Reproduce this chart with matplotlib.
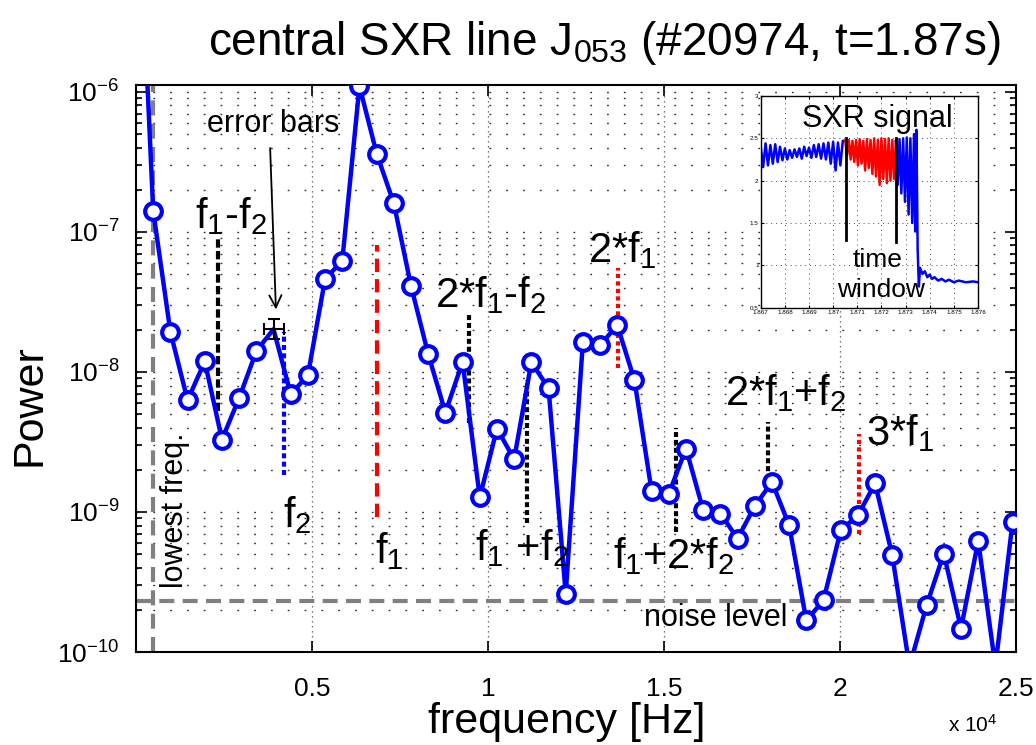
import matplotlib
matplotlib.use('Agg')
import matplotlib.pyplot as plt
from matplotlib.ticker import LogLocator, NullFormatter

plt.rcParams['font.family'] = ['Liberation Sans', 'DejaVu Sans']
plt.rcParams['mathtext.fontset'] = 'custom'
plt.rcParams['mathtext.rm'] = 'Liberation Sans'
plt.rcParams['mathtext.it'] = 'Liberation Sans'
plt.rcParams['mathtext.default'] = 'regular'
plt.rcParams['axes.unicode_minus'] = False
plt.rcParams['xtick.labelsize'] = 19
plt.rcParams['ytick.labelsize'] = 19

# spectrum (frequency in Hz, power)
freq = [0, 488, 977, 1465, 1953, 2441, 2930, 3418, 3906, 4395, 4883, 5371, 5859,
        6348, 6836, 7324, 7813, 8301, 8789, 9277, 9766, 10254, 10742, 11230, 11719,
        12207, 12695, 13184, 13672, 14160, 14648, 15137, 15625, 16113, 16602, 17090,
        17578, 18066, 18555, 19043, 19531, 20020, 20508, 20996, 21484, 21973, 22461,
        22949, 23438, 23926, 24414, 24902]
power = [7e-5, 1.41e-7, 1.93e-8, 6.28e-9, 1.19e-8, 3.29e-9, 6.52e-9, 1.41e-8, 2.02e-8,
         6.93e-9, 9.48e-9, 4.61e-8, 6.21e-8, 1.10e-6, 3.63e-7, 1.60e-7, 4.11e-8, 1.34e-8,
         5.13e-9, 1.18e-8, 1.27e-9, 3.94e-9, 2.38e-9, 1.17e-8, 7.69e-9, 2.61e-10, 1.64e-8,
         1.55e-8, 2.16e-8, 8.73e-9, 1.41e-9, 1.35e-9, 2.84e-9, 1.03e-9, 9.75e-10, 6.46e-10,
         1.10e-9, 1.64e-9, 8.04e-10, 1.68e-10, 2.34e-10, 7.40e-10, 9.46e-10, 1.60e-9,
         4.91e-10, 7.9e-11, 2.16e-10, 5.05e-10, 1.47e-10, 6.21e-10, 7.9e-11, 8.49e-10]
err_idx = 8
err_x = 284
err_y = [[3.1e-9], [3.6e-9]]
noise_level = 2.31e-10
y_ticks = [1e-10, 1e-9, 1e-8, 1e-7, 1e-6]
y_ticklabels = ['10$^{-10}$', '10$^{-9}$', '10$^{-8}$', '10$^{-7}$', '10$^{-6}$']

# harmonic marker lines: freq, low, high
line_freq = [2330, 4205, 6855, 9469, 11099, 13702, 15332, 17963, 20540]
line_low = [5.3e-9, 1.83e-9, 9.2e-10, 4.3e-9, 8.3e-10, 1.06e-8, 7.2e-10, 1.51e-9, 7.0e-10]
line_high = [9.2e-8, 1.93e-8, 8.0e-8, 2.54e-8, 8.7e-9, 5.5e-8, 3.95e-9, 4.4e-9, 3.63e-9]
line_color = ['k', 'b', 'r', 'k', 'k', 'r', 'k', 'k', 'r']
line_dash = [(2.0, 0.8), (1.2, 0.8), (3.2, 1.7), (1.2, 0.7), (1.2, 0.7),
             (1.0, 0.8), (1.2, 0.7), (1.2, 0.7), (1.0, 0.8)]
labels = ['f$_1$-f$_2$', 'f$_2$', 'f$_1$', '2*f$_1$-f$_2$', 'f$_1$ +f$_2$',
          '2*f$_1$', 'f$_1$+2*f$_2$', '2*f$_1$+f$_2$', '3*f$_1$']
label_x = [1676, 4176, 6782, 8494, 9631, 12841, 13551, 16733, 20739]
label_y = [1.06e-7, 7.8e-10, 4.3e-10, 2.9e-8, 4.5e-10, 6.1e-8, 4.0e-10, 5.8e-9, 3.0e-9]

t_pre = [1.8670, 1.8671, 1.8672, 1.8673, 1.8674, 1.8675, 1.8676, 1.8677, 1.8678, 1.8679,
         1.8680, 1.8681, 1.8682, 1.8683, 1.8684, 1.8685, 1.8686, 1.8687, 1.8688, 1.8689,
         1.8690, 1.8691, 1.8692, 1.8693, 1.8694, 1.8695, 1.8696, 1.8697, 1.8698, 1.8699,
         1.8700, 1.8701, 1.8702, 1.8703, 1.8704, 1.8705]
v_pre = [2.40, 2.16, 2.44, 2.18, 2.42, 2.20, 2.43, 2.22, 2.40, 2.24, 2.38, 2.25, 2.36, 2.27,
         2.37, 2.28, 2.38, 2.26, 2.40, 2.29, 2.39, 2.27, 2.42, 2.28, 2.43, 2.26, 2.44, 2.25,
         2.45, 2.20, 2.46, 2.12, 2.45, 2.18, 2.47, 2.47]
t_win = [1.870500, 1.870575, 1.870650, 1.870725, 1.870800, 1.870875, 1.870950, 1.871025,
         1.871100, 1.871175, 1.871250, 1.871325, 1.871400, 1.871475, 1.871550, 1.871625,
         1.871700, 1.871775, 1.871850, 1.871925, 1.872000, 1.872075, 1.872150, 1.872225,
         1.872300, 1.872375, 1.872450, 1.872525, 1.872600]
v_win = [2.47, 2.30, 2.48, 2.25, 2.47, 2.22, 2.48, 2.18, 2.49, 2.20, 2.47, 2.12, 2.49, 2.15,
         2.48, 2.08, 2.50, 2.05, 2.48, 1.95, 2.50, 2.02, 2.49, 1.97, 2.50, 2.00, 2.48, 2.02,
         2.47]
t_post = [1.872600, 1.872675, 1.872750, 1.872825, 1.872900, 1.872975, 1.873050, 1.873125,
          1.873200, 1.873275, 1.873350, 1.873400, 1.873450, 1.873500, 1.873550, 1.873600,
          1.873700, 1.873800, 1.873900, 1.874000, 1.874100, 1.874200, 1.874350, 1.874500,
          1.874650, 1.874800, 1.875000, 1.875200, 1.875500, 1.875800, 1.876000]
v_post = [2.47, 1.95, 2.49, 1.85, 2.50, 1.75, 2.51, 1.60, 2.50, 1.50, 2.55, 1.40, 2.60, 1.20,
          0.75, 0.97, 0.90, 0.93, 0.86, 0.89, 0.84, 0.86, 0.82, 0.84, 0.81, 0.83, 0.80, 0.82,
          0.80, 0.81, 0.80]
win_start = 1.87055
win_end = 1.87262

fig = plt.figure(figsize=(10.36, 7.45), dpi=100)
ax = fig.add_axes([0.1313, 0.1248, 0.8494, 0.7611])

ax.set_yscale('log')
ax.set_xlim(0, 25000)
ax.set_ylim(1e-10, 1.12e-6)

# grid in matlab style
ax.set_yticks(y_ticks)
ax.set_yticklabels(y_ticklabels)
ax.yaxis.set_minor_locator(LogLocator(base=10, subs=range(2, 10)))
ax.yaxis.set_minor_formatter(NullFormatter())
ax.grid(True, axis='y', which='both', color='0.2', lw=1.0, ls=(0, (1.3, 10.8)))
ax.grid(True, axis='x', which='major', color='0.3', lw=0.9, ls=(0, (1, 3)))
ax.set_axisbelow(True)

ax.set_xticks([5000, 10000, 15000, 20000, 25000])
ax.set_xticklabels(['0.5', '1', '1.5', '2', '2.5'])
ax.tick_params(which='both', direction='in', top=True, right=True, width=1.2)
ax.tick_params(which='major', length=8)
ax.tick_params(which='minor', length=4)
ax.tick_params(axis='x', pad=18)
ax.tick_params(axis='y', pad=12)
for s in ax.spines.values():
    s.set_linewidth(1.5)

# lowest frequency and noise level
ax.axvline(freq[1], color='0.5', lw=3, dashes=(3.6, 2.0), zorder=2)
ax.axhline(noise_level, color='0.5', lw=3, dashes=(3.6, 2.0), zorder=2)

# harmonic marker lines
for i in range(len(line_freq)):
    ax.plot([line_freq[i], line_freq[i]], [line_low[i], line_high[i]],
            color=line_color[i], lw=3, dashes=line_dash[i], zorder=3)
    ax.text(label_x[i], label_y[i], labels[i], fontsize=30, ha='left', va='baseline', zorder=6)

# spectrum
marks = [i for i in range(len(freq)) if i != err_idx]
ax.plot(freq, power, color='b', lw=3.2, marker='o', ms=12, mew=3, mfc='white',
        markevery=marks, zorder=4)
ax.errorbar(freq[err_idx], power[err_idx], xerr=err_x, yerr=err_y, fmt='none',
            ecolor='k', elinewidth=1.5, capsize=4, capthick=1.5, zorder=5)

ax.annotate('', xy=(3977, 2.67e-8), xytext=(3807, 4.16e-7),
            arrowprops=dict(arrowstyle='->', color='k', lw=1.3, mutation_scale=22))
ax.text(3892, 5.86e-7, 'error bars', fontsize=22, ha='center', va='center')
ax.text(14432, 1.74e-10, 'noise level', fontsize=22, ha='left', va='center')
ax.text(1108, 2.85e-10, 'lowest freq.', fontsize=22, rotation=90, ha='center', va='bottom')

ax.set_xlabel('frequency [Hz]', fontsize=31)
ax.xaxis.set_label_coords(0.49, -0.088)
ax.set_ylabel('Power', fontsize=31)
ax.yaxis.set_label_coords(-0.098, 0.436)
fig.text(0.583, 0.926, 'central SXR line J$_{053}$ (#20974, t=1.87s)', fontsize=33,
         ha='center', va='baseline')
fig.text(0.915, 0.012, 'x 10$^{4}$', fontsize=15, ha='left', va='bottom')

# inset
axin = fig.add_axes([0.7343, 0.587, 0.2097, 0.2842])
axin.set_facecolor('white')
axin.plot(t_pre, v_pre, color='b', lw=1.8)
axin.plot(t_win, v_win, color='r', lw=1.8)
axin.plot(t_post, v_post, color='b', lw=1.8)
axin.plot([win_start, win_start], [1.3, 2.5], color='k', lw=2)
axin.plot([win_end, win_end], [1.28, 2.5], color='k', lw=2)
axin.set_xlim(1.867, 1.876)
axin.set_ylim(0.5, 3)
in_ticks = [1.867, 1.868, 1.869, 1.87, 1.871, 1.872, 1.873, 1.874, 1.875, 1.876]
axin.set_xticks(in_ticks)
axin.set_xticklabels(['1.867', '1.868', '1.869', '1.87', '1.871', '1.872', '1.873',
                      '1.874', '1.875', '1.876'], fontsize=4.5)
axin.set_yticks([0.5, 1, 1.5, 2, 2.5, 3])
axin.set_yticklabels(['0.5', '1', '1.5', '2', '2.5', '3'], fontsize=4.5)
axin.tick_params(direction='in', length=2, pad=1.5, top=True, right=True)
axin.grid(True, color='0.3', lw=0.7, ls=(0, (1, 4)))
for s in axin.spines.values():
    s.set_linewidth(1.0)
axin.text(1.87184, 2.634, 'SXR signal', fontsize=22, ha='center', va='baseline')
axin.text(1.87184, 0.981, 'time', fontsize=19, ha='center', va='baseline')
axin.text(1.87200, 0.626, 'window', fontsize=19, ha='center', va='baseline')

fig.savefig('out.png', dpi=100)
